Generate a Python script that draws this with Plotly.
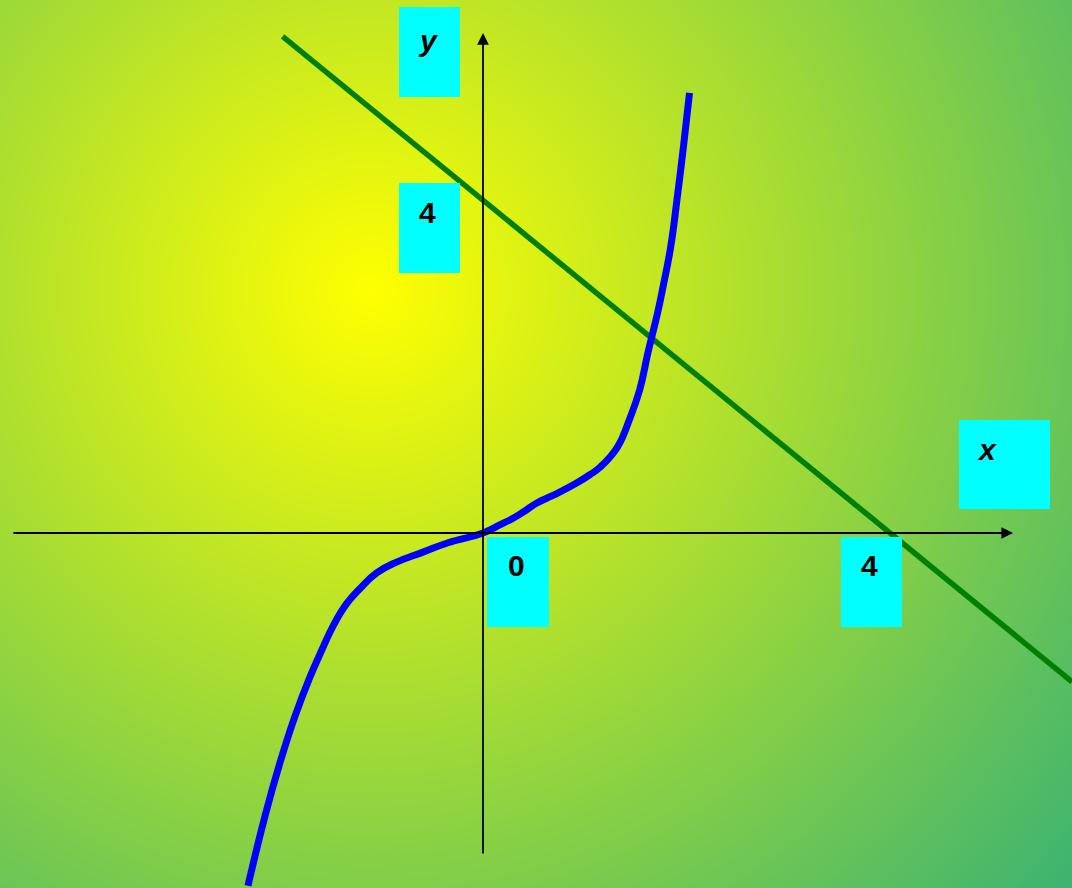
import numpy as np
import plotly.graph_objects as go

# %% DATA
# blue curve (graph units)
curve_x = [-2.31, -2.14, -2.00, -1.85, -1.70, -1.585, -1.47, -1.34, -1.21, -1.045, -0.85,
           -0.59, -0.35, 0.0, 0.17, 0.30, 0.43, 0.53, 0.63, 0.72, 0.92, 1.05, 1.15,
           1.32, 1.435, 1.54, 1.62, 1.715, 1.77, 1.845, 1.91, 1.97, 2.03]
curve_y = [-4.24, -3.39, -2.78, -2.21, -1.73, -1.41, -1.11, -0.85, -0.67, -0.48, -0.35,
           -0.23, -0.12, 0.0, 0.10, 0.18, 0.28, 0.36, 0.42, 0.47, 0.60, 0.70, 0.79,
           1.03, 1.35, 1.72, 2.16, 2.64, 2.96, 3.44, 4.04, 4.64, 5.29]

# green line y = 4 - x
line_x = [-1.97, 5.79]
line_y = [5.97, -1.79]

# axis tick labels and axis names
tick_labels = ["y", "4", "x", "0", "4"]

# %% SETTINGS
W, H = 1072, 888
x_range = [-4.747, 5.789]
y_range = [-4.267, 6.406]

# label boxes in pixels: (x0, y0, x1, y1), text centre
boxes = [(399, 7, 460, 97), (399, 183, 460, 273), (959, 420, 1050, 509),
         (487, 537, 549, 627), (841, 537, 902, 627)]
text_pos = [(428, 40), (427, 212), (987, 449), (516, 565), (869, 565)]

# %% BACKGROUND (radial gradient yellow -> sea green)
gx = np.linspace(0, W, 135)
gy = np.linspace(0, H, 112)
GX, GY = np.meshgrid(gx, gy)
gz = np.sqrt((GX - 370) ** 2 + (GY - 290) ** 2) / 922.0

fig = go.Figure()
fig.add_trace(go.Heatmap(x=gx, y=gy, z=gz, zmin=0, zmax=1, zsmooth="best",
                         colorscale=[[0, "#FFFF00"], [1, "#3CB371"]],
                         showscale=False, hoverinfo="skip", xaxis="x", yaxis="y"))

# %% CURVES
fig.add_trace(go.Scatter(x=line_x, y=line_y, mode="lines",
                         line=dict(color="#008000", width=5.5),
                         xaxis="x2", yaxis="y2", showlegend=False))
fig.add_trace(go.Scatter(x=curve_x, y=curve_y, mode="lines",
                         line=dict(color="#0000FF", width=7, shape="spline",
                                   smoothing=1.3, simplify=False),
                         xaxis="x2", yaxis="y2", showlegend=False))

# %% AXES WITH ARROWS
arrow = dict(showarrow=True, arrowhead=2, arrowsize=1.3, arrowwidth=1.8,
             arrowcolor="black", text="", xref="x2", yref="y2", axref="x2", ayref="y2")
fig.add_annotation(x=5.21, y=0, ax=-4.63, ay=0, **arrow)
fig.add_annotation(x=0, y=6.01, ax=0, ay=-3.87, **arrow)

# %% LABEL BOXES
for (x0, y0, x1, y1), (tx, ty), lab in zip(boxes, text_pos, tick_labels):
    fig.add_shape(type="rect", xref="x", yref="y", x0=x0, y0=y0, x1=x1, y1=y1,
                  fillcolor="#00FFFF", line_width=0, layer="above")
    txt = "<b><i>" + lab + "</i></b>" if lab in ("x", "y") else "<b>" + lab + "</b>"
    fig.add_annotation(x=tx, y=ty, xref="x", yref="y", text=txt, showarrow=False,
                       font=dict(family="Liberation Sans, Arial", size=30, color="black"),
                       xanchor="center", yanchor="middle")

fig.update_layout(
    width=W, height=H, autosize=False,
    margin=dict(l=0, r=0, t=0, b=0),
    paper_bgcolor="#3CB371", plot_bgcolor="#3CB371",
    showlegend=False,
    xaxis=dict(range=[0, W], visible=False, fixedrange=True),
    yaxis=dict(range=[H, 0], visible=False, fixedrange=True),
    xaxis2=dict(range=x_range, overlaying="x", anchor="y2", visible=False, fixedrange=True),
    yaxis2=dict(range=y_range, overlaying="y", anchor="x2", visible=False, fixedrange=True),
)

# page body margin off so the figure fills the window
fig.write_html("out.html", config={"displayModeBar": False},
               post_script="document.body.style.margin='0px';")
